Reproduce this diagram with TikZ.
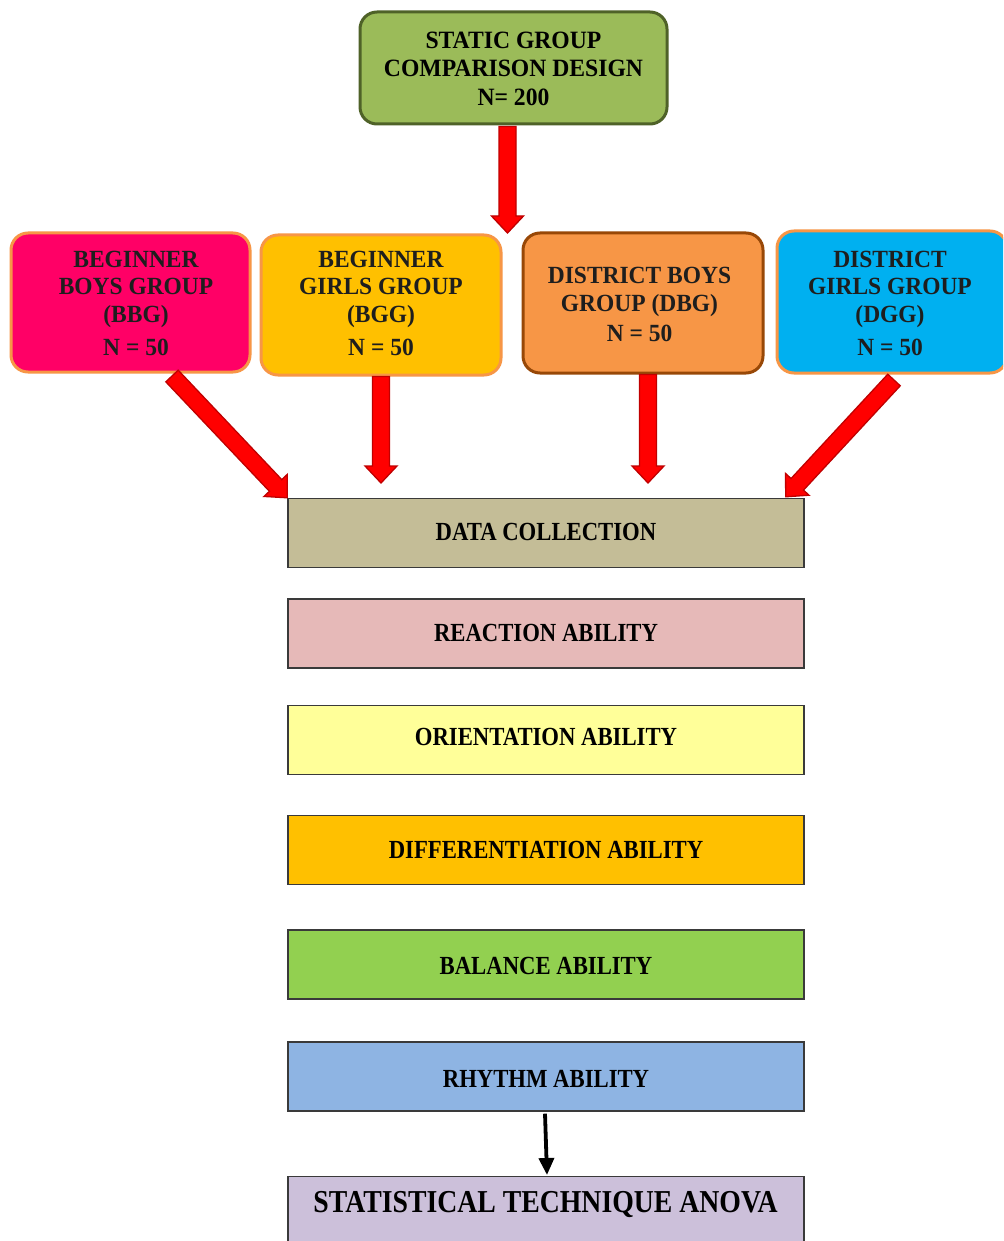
\documentclass[tikz,border=0pt]{standalone}
\usepackage{fontspec}
\setmainfont{Liberation Serif}
\newfontfamily\tallA[FakeStretch=0.87]{Liberation Serif}
\newfontfamily\tallB[FakeStretch=0.95]{Liberation Serif}
\usetikzlibrary{calc,arrows.meta}
\definecolor{topfill}{HTML}{9BBB59}
\definecolor{topedge}{HTML}{4F6228}
\definecolor{arred}{HTML}{FF0000}
\definecolor{aredge}{HTML}{C00000}
\definecolor{orangeedge}{HTML}{F79646}
\definecolor{brownedge}{HTML}{984807}
\definecolor{bbgfill}{HTML}{FF0066}
\definecolor{bggfill}{HTML}{FFC000}
\definecolor{dbgfill}{HTML}{F79646}
\definecolor{dggfill}{HTML}{00B0F0}
\definecolor{datafill}{HTML}{C4BD97}
\definecolor{reacfill}{HTML}{E6B9B8}
\definecolor{orifill}{HTML}{FFFF99}
\definecolor{difffill}{HTML}{FFC000}
\definecolor{balfill}{HTML}{92D050}
\definecolor{rhyfill}{HTML}{8EB4E3}
\definecolor{statfill}{HTML}{CCC0DA}
\definecolor{edge}{HTML}{3A3A3A}
\definecolor{txt}{HTML}{1E1E1E}
\newcommand\fatarrow[2]{%
  \coordinate (fH) at ($(#2)!17pt!(#1)$);
  \path[fatarr] ($(#1)!8.5pt!90:(#2)$) -- ($(fH)!8.5pt!90:(#2)$) -- ($(fH)!16pt!90:(#2)$) -- (#2)
    -- ($(fH)!16pt!-90:(#2)$) -- ($(fH)!8.5pt!-90:(#2)$) -- ($(#1)!8.5pt!-90:(#2)$) -- cycle;}
\begin{document}
\begin{tikzpicture}[x=1pt,y=-1pt,
  rbox/.style={rectangle, rounded corners=17pt, line width=3pt, inner sep=0pt},
  ttext/.style={font=\tallB\fontsize{24.9}{28.5}\selectfont\bfseries, align=center, text=black, inner sep=0pt},
  gtext/.style={font=\tallB\fontsize{24.7}{27.5}\selectfont\bfseries, align=center, text=txt, inner sep=0pt},
  abox/.style={rectangle, draw=edge, line width=1.4pt, minimum width=516pt, minimum height=69pt, inner sep=0pt},
  atext/.style={font=\tallA\fontsize{26.1}{28}\selectfont\bfseries, text=black, inner sep=0pt, text height=17pt, text depth=0pt},
  stext/.style={font=\tallA\fontsize{31.9}{34}\selectfont\bfseries, text=black, inner sep=0pt, text height=20.8pt, text depth=0pt},
  fatarr/.style={fill=arred, draw=aredge, line width=1.3pt, line join=miter}]
\clip (0,0) rectangle (1003,1241);
\fill[white] (0,0) rectangle (1003,1241);

% top box
\node[rbox, draw=topedge, fill=topfill, minimum width=307pt, minimum height=112pt] (top) at (513.5,68) {};
\node[ttext] (topT) at (513.5,68.5) {STATIC GROUP\\COMPARISON DESIGN\\N= 200};

% group boxes
\node[rbox, draw=orangeedge, fill=bbgfill, minimum width=239pt, minimum height=139pt] (bbg) at (130.5,302.5) {};
\node[rbox, draw=orangeedge, fill=bggfill, minimum width=240pt, minimum height=140pt] (bgg) at (381,305) {};
\node[rbox, draw=brownedge, fill=dbgfill, minimum width=240pt, minimum height=140pt] (dbg) at (643,303) {};
\node[rbox, draw=orangeedge, fill=dggfill, minimum width=230pt, minimum height=142pt] (dgg) at (892,302) {};
\node[gtext] (bbgT) at (136,303) {BEGINNER\\BOYS GROUP\\(BBG)\\[5.5pt]N = 50};
\node[gtext] (bggT) at (381,303) {BEGINNER\\GIRLS GROUP\\(BGG)\\[5.5pt]N = 50};
\node[gtext] (dbgT) at (639.5,304.5) {DISTRICT BOYS\\GROUP (DBG)\\[3pt]N = 50};
\node[gtext] (dggT) at (890,303) {DISTRICT\\GIRLS GROUP\\(DGG)\\[5.5pt]N = 50};

% ability boxes
\node[abox, fill=datafill] (data) at (546,533) {};
\node[abox, fill=reacfill] (reac) at (546,633.5) {};
\node[abox, fill=orifill] (ori) at (546,740) {};
\node[abox, fill=difffill] (diff) at (546,850) {};
\node[abox, fill=balfill] (bal) at (546,964.5) {};
\node[abox, fill=rhyfill] (rhy) at (546,1076.5) {};
\node[abox, fill=statfill, anchor=north, minimum height=90pt] (stat) at (546,1176) {};
\node[atext] (dataT) at (546,531.5) {DATA COLLECTION};
\node[atext] (reacT) at (546,633) {REACTION ABILITY};
\node[atext] (oriT) at (546,737) {ORIENTATION ABILITY};
\node[atext] (diffT) at (546,849.5) {DIFFERENTIATION ABILITY};
\node[atext] (balT) at (546,966) {BALANCE ABILITY};
\node[atext] (rhyT) at (546,1079) {RHYTHM ABILITY};
\node[stext] (statT) at (545.5,1202.5) {STATISTICAL TECHNIQUE ANOVA};

% red arrows
\coordinate (a0s) at ($(top.south)+(-6,1)$);
\coordinate (a0e) at (507.5,233);
\fatarrow{a0s}{a0e}
\coordinate (a1s) at (172,376);
\fatarrow{a1s}{data.north west}
\coordinate (a2s) at ($(bgg.south)+(0,0)$);
\coordinate (a2e) at (381,483);
\fatarrow{a2s}{a2e}
\coordinate (a3s) at ($(dbg.south)+(5,0)$);
\coordinate (a3e) at (648,483);
\fatarrow{a3s}{a3e}
\coordinate (a4s) at (894,380);
\coordinate (a4e) at ($(data.north east)+(-19,-1)$);
\fatarrow{a4s}{a4e}

% black arrow
\draw[line width=3.8pt, -{Triangle[length=17pt,width=15pt]}] ($(rhy.south)+(-1,2)$) -- ($(stat.north)+(1,-1)$);
\end{tikzpicture}
\end{document}
